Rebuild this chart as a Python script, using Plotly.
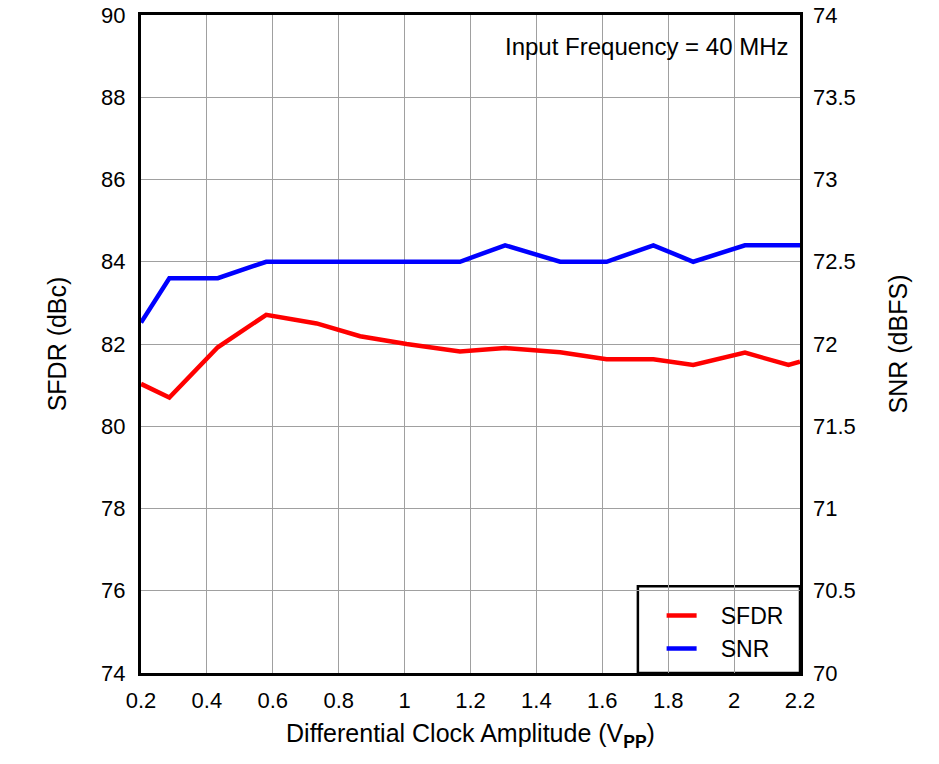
import plotly.graph_objects as go

x_vals = [0.2, 0.286, 0.433, 0.58, 0.733, 0.865, 1.006, 1.168, 1.305, 1.472, 1.613, 1.755, 1.876, 2.033, 2.165, 2.2]
sfdr = [81.03, 80.70, 81.92, 82.71, 82.5, 82.19, 82.0, 81.82, 81.9, 81.8, 81.63, 81.63, 81.49, 81.79, 81.49, 81.57]
snr = [72.13, 72.4, 72.4, 72.5, 72.5, 72.5, 72.5, 72.5, 72.6, 72.5, 72.5, 72.6, 72.5, 72.6, 72.6, 72.6]

x_ticks = [0.2, 0.4, 0.6, 0.8, 1.0, 1.2, 1.4, 1.6, 1.8, 2.0, 2.2]
x_tick_text = ["0.2", "0.4", "0.6", "0.8", "1", "1.2", "1.4", "1.6", "1.8", "2", "2.2"]
left_ticks = [74, 76, 78, 80, 82, 84, 86, 88, 90]
right_ticks = [70, 70.5, 71, 71.5, 72, 72.5, 73, 73.5, 74]
right_tick_text = ["70", "70.5", "71", "71.5", "72", "72.5", "73", "73.5", "74"]

font = "Liberation Sans, Arial, sans-serif"
tick_font = dict(family=font, size=22, color="black")

fig = go.Figure()
fig.add_trace(go.Scatter(x=x_vals, y=sfdr, name="\u00a0\u00a0\u00a0SFDR", mode="lines",
                         line=dict(color="#FF0000", width=4.5), yaxis="y"))
fig.add_trace(go.Scatter(x=x_vals, y=snr, name="\u00a0\u00a0\u00a0SNR", mode="lines",
                         line=dict(color="#0000FF", width=4.5), yaxis="y2"))

# plot area at x 141-800, y 15-673 (page body margin removed below)
fig.update_layout(
    width=939, height=764,
    margin=dict(l=141, r=139, t=15, b=91, autoexpand=False),
    paper_bgcolor="white", plot_bgcolor="white",
    font=dict(family=font, size=21, color="black"),
    xaxis=dict(range=[0.2, 2.2], tickvals=x_ticks, ticktext=x_tick_text,
               showgrid=True, gridcolor="#A0A0A0", gridwidth=1,
               showline=True, linecolor="black", linewidth=3, mirror=True,
               ticks="", zeroline=False, automargin=False,
               tickfont=tick_font, ticklabelstandoff=6, ticklabeloverflow="allow",
               title=dict(text="Differential Clock Amplitude (V<sub><b>PP</b></sub>)", standoff=13)),
    yaxis=dict(range=[74, 90], tickvals=left_ticks,
               showgrid=True, gridcolor="#A0A0A0", gridwidth=1,
               showline=True, linecolor="black", linewidth=3, mirror=True,
               ticks="", zeroline=False, automargin=False,
               tickfont=tick_font, ticklabelstandoff=8, ticklabeloverflow="allow",
               title=dict(text="SFDR (dBc)", standoff=28)),
    yaxis2=dict(range=[70, 74], tickvals=right_ticks, ticktext=right_tick_text,
                overlaying="y", side="right", showgrid=False,
                ticks="", zeroline=False, automargin=False,
                tickfont=tick_font, ticklabelstandoff=12, ticklabeloverflow="allow",
                title=dict(text="SNR (dBFS)", standoff=34)),
    legend=dict(x=0.79, xanchor="left", y=0.12, yanchor="top",
                borderwidth=0, bgcolor="rgba(0,0,0,0)",
                font=dict(family=font, size=23), tracegroupgap=0),
    showlegend=True,
    shapes=[dict(type="rect", xref="paper", yref="paper",
                 x0=0.754, x1=1.0, y0=0.0, y1=0.132,
                 line=dict(color="black", width=2.5), fillcolor="white", layer="below")],
    annotations=[dict(text="Input Frequency = 40 MHz", x=0.985, y=0.975,
                      xref="paper", yref="paper", xanchor="right", yanchor="top",
                      showarrow=False, font=dict(family=font, size=24))],
)

fig.write_html("out.html", config={"displayModeBar": False},
               post_script="document.body.style.margin='0';")
